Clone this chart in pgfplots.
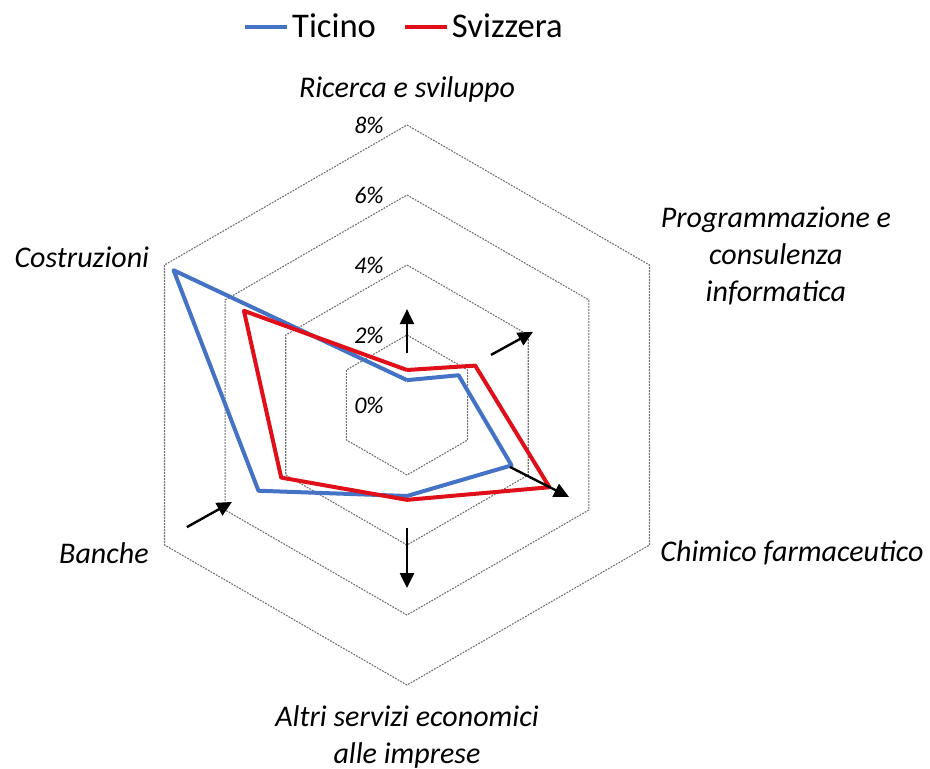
\documentclass[border=0pt]{standalone}
\usepackage{fontspec}
\setmainfont{Carlito}
\usepackage{pgfplots}
\pgfplotsset{compat=1.18}
\usetikzlibrary{arrows.meta}
\definecolor{tiblue}{HTML}{4472C4}
\definecolor{chred}{HTML}{E0101A}
\definecolor{gridgray}{HTML}{707070}
\tikzset{
  catlab/.style={font=\itshape\fontsize{15}{18.7}\selectfont, align=center, inner sep=0pt},
  ticklab/.style={font=\itshape\fontsize{12}{14}\selectfont, anchor=east, xshift=-11.5pt, inner sep=0pt},
}
\begin{document}
\begin{tikzpicture}
\useasboundingbox (0,0) rectangle (465pt,384.5pt);
\begin{axis}[
  at={(203.5pt,182pt)}, anchor=origin,
  x=17.5pt, y=17.5pt,
  xmin=-8, xmax=8, ymin=-8, ymax=8,
  hide axis, clip=false,
  legend style={at={(0.4955,1.175)}, anchor=center, draw=none, fill=none,
    font=\fontsize{17.3}{20}\selectfont, legend columns=2,
    /tikz/every even column/.append style={column sep=12pt},
    inner sep=0pt, nodes={inner xsep=1.5pt, inner ysep=1pt}},
  legend image code/.code={\draw[#1] (0pt,0pt) -- (21pt,0pt);},
  gridhex/.style={gridgray, line width=0.55pt, dash pattern=on 0.9pt off 0.6pt, forget plot, data cs=polar},
  arr/.style={black, line width=1.2pt, -{Triangle[length=7.5pt,width=7pt]}, forget plot},
]
% hexagonal grid rings
\addplot[gridhex] coordinates {(90,2) (30,2) (-30,2) (-90,2) (-150,2) (150,2) (90,2)};
\addplot[gridhex] coordinates {(90,4) (30,4) (-30,4) (-90,4) (-150,4) (150,4) (90,4)};
\addplot[gridhex] coordinates {(90,6) (30,6) (-30,6) (-90,6) (-150,6) (150,6) (90,6)};
\addplot[gridhex] coordinates {(90,8) (30,8) (-30,8) (-90,8) (-150,8) (150,8) (90,8)};

% data (angle, value in %)
\addplot[tiblue, line width=2pt, line join=round, data cs=polar] coordinates {
  (90,0.71) (30,1.70) (-30,3.45) (-90,2.60) (-150,4.90) (150,7.70) (90,0.71)};
\addlegendentry{Ticino}
\addplot[chred, line width=2pt, line join=round, data cs=polar] coordinates {
  (90,1.00) (30,2.25) (-30,4.70) (-90,2.71) (-150,4.15) (150,5.38) (90,1.00)};
\addlegendentry{Svizzera}

% arrows
\addplot[arr] coordinates {(0,1.49) (0,2.74)};
\addplot[arr] coordinates {(2.40,1.43) (3.60,2.09)};
\addplot[arr] coordinates {(2.94,-1.77) (4.63,-2.63)};
\addplot[arr] coordinates {(0,-3.51) (0,-5.23)};
\addplot[arr] coordinates {(-6.29,-3.49) (-5.00,-2.77)};

% ring labels
\node[ticklab] at (axis cs:0,0) {0\%};
\node[ticklab] at (axis cs:0,2) {2\%};
\node[ticklab] at (axis cs:0,4) {4\%};
\node[ticklab] at (axis cs:0,6) {6\%};
\node[ticklab] at (axis cs:0,8) {8\%};

% category labels
\node[catlab] at (axis cs:0,9.0) {Ricerca e sviluppo};
\node[catlab] at (axis cs:10.54,4.26) {Programmazione e\\consulenza\\informatica};
\node[catlab] at (axis cs:11.0,-4.23) {Chimico farmaceutico};
\node[catlab] at (axis cs:0,-9.49) {Altri servizi economici\\alle imprese};
\node[catlab] at (axis cs:-8.66,-4.23) {Banche};
\node[catlab] at (axis cs:-9.29,4.23) {Costruzioni};
\end{axis}
\end{tikzpicture}
\end{document}
